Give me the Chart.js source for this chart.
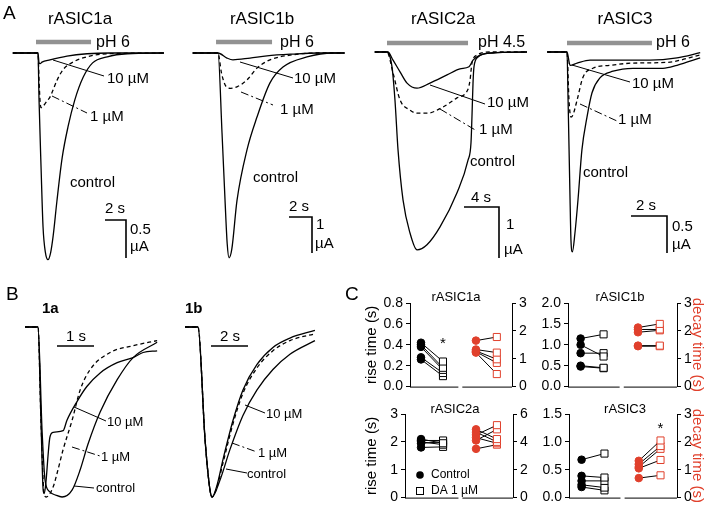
<!DOCTYPE html>
<html>
<head>
<meta charset="utf-8">
<script src="https://cdn.jsdelivr.net/npm/chart.js@4.4.1/dist/chart.umd.min.js"></script>
<style>
  html, body { margin: 0; padding: 0; background: #fff; }
  #fig { position: relative; width: 709px; height: 511px; overflow: hidden; background: #fff; }
  #fig canvas { position: absolute; }
</style>
</head>
<body>
<div id="fig"></div>
<script>
// ---- A: whole-cell currents, [time from pH step (s), current (uA)] ----
const a1aControl = [[-2.4,0],[0,0],[0.1,-0.62],[0.29,-1.5],[0.48,-2.29],[0.7,-2.62],[0.95,-2.72],[1.2,-2.63],[1.45,-2.4],[1.8,-1.95],[2.3,-1.38],[2.86,-0.97],[3.5,-0.62],[4.3,-0.32],[5.2,-0.13],[6.6,-0.05],[8.5,-0.01],[12,0]];
const a1a1uM = [[-2.4,0],[0,0],[0.1,-0.36],[0.19,-0.62],[0.29,-0.72],[0.48,-0.7],[0.86,-0.63],[1.14,-0.58],[1.81,-0.36],[2.38,-0.22],[3.33,-0.12],[4.67,-0.05],[6.6,-0.01],[12,0]];
const a1a10uM = [[-2.4,0],[0,0],[0.1,-0.13],[0.2,-0.14],[0.38,-0.12],[1.14,-0.09],[2.76,-0.04],[4.67,-0.01],[6.9,0],[12,0]];

const a1bControl = [[-2.2,0],[0,0],[0.35,-2.22],[0.61,-4.08],[0.8,-5.3],[0.96,-5.69],[1.2,-5.45],[1.65,-4.1],[2.52,-2.69],[3.39,-1.78],[4.52,-0.83],[5.65,-0.39],[7.74,-0.11],[10,0],[11,0]];
const a1b1uM = [[-2.2,0],[0,0],[0.3,-0.55],[0.7,-0.93],[1.1,-0.98],[1.65,-0.94],[2.52,-0.75],[3.39,-0.42],[4.52,-0.19],[6.26,-0.06],[8.6,0],[11,0]];
const a1b10uM = [[-2.2,0],[0,0],[0.78,-0.14],[1.3,-0.19],[2.78,-0.14],[4.26,-0.08],[6.52,-0.03],[8.6,0],[11,0]];

const a2aControl = [[-1.4,0],[0,0],[0.57,-0.29],[0.91,-0.94],[1.26,-1.92],[1.83,-2.9],[2.63,-3.55],[3.43,-3.88],[4.57,-3.78],[6.06,-3.43],[8.0,-2.76],[9.26,-2.12],[9.6,-1.78],[9.71,-1.27],[9.83,-0.61],[9.94,-0.29],[10.4,-0.1],[11.8,-0.02],[16,0]];
const a2a1uM = [[-1.4,0],[0,0],[0.69,-0.41],[1.49,-0.94],[2.63,-1.14],[3.43,-1.2],[4.57,-1.2],[6.4,-1.08],[8.0,-0.9],[9.26,-0.73],[9.49,-0.55],[9.71,-0.22],[10.29,-0.06],[11.8,0],[16,0]];
const a2a10uM = [[-1.4,0],[0.1,0],[0.69,-0.16],[1.49,-0.39],[2.29,-0.61],[3.43,-0.71],[4.91,-0.61],[6.86,-0.45],[8.34,-0.33],[9.37,-0.29],[9.83,-0.16],[10.63,-0.06],[12.1,-0.02],[16,0]];

const a3Control = [[-1.1,0],[0,0],[0.06,-0.65],[0.17,-2.0],[0.22,-2.54],[0.3,-2.7],[0.44,-2.45],[0.61,-2.0],[0.83,-1.32],[1.11,-0.88],[1.39,-0.55],[1.83,-0.35],[2.56,-0.26],[3.67,-0.22],[5.33,-0.22],[6.11,-0.18],[7.4,-0.08]];
const a31uM = [[-1.1,0],[0,0],[0.11,-0.65],[0.22,-0.88],[0.33,-0.85],[0.56,-0.65],[0.89,-0.34],[1.44,-0.22],[2.39,-0.18],[3.67,-0.15],[5.56,-0.14],[7.4,-0.04]];
const a310uM = [[-1.1,0],[0,0],[0.17,-0.18],[0.56,-0.15],[1.28,-0.11],[2.78,-0.11],[4.61,-0.11],[6.11,-0.08],[7.4,-0.01]];

// ---- B: normalised currents, [time (s), I/Imax] ----
const b1aControl = [[-0.35,0],[0,0],[0.11,-0.61],[0.19,-0.9],[0.32,-0.97],[0.49,-0.99],[0.65,-1.0],[0.92,-0.96],[1.14,-0.84],[1.35,-0.69],[1.68,-0.5],[2.14,-0.31],[2.57,-0.18],[3.22,-0.09]];
const b1a1uM = [[-0.35,0],[0,0],[0.08,-0.55],[0.16,-0.97],[0.22,-1.0],[0.41,-0.94],[0.54,-0.84],[0.68,-0.72],[0.92,-0.55],[1.14,-0.37],[1.41,-0.25],[1.95,-0.15],[2.57,-0.11],[3.22,-0.08]];
const b1a10uM = [[-0.35,0],[0,0],[0.08,-0.55],[0.14,-0.96],[0.17,-0.98],[0.22,-0.9],[0.27,-0.76],[0.32,-0.65],[0.41,-0.62],[0.68,-0.61],[0.78,-0.55],[1.05,-0.44],[1.32,-0.35],[1.68,-0.27],[2.14,-0.21],[2.57,-0.18],[2.84,-0.15],[3.22,-0.14]];
const b1bControl = [[-0.7,0],[0,0],[0.38,-0.66],[0.65,-0.96],[0.76,-1.0],[1.03,-0.93],[1.35,-0.78],[1.89,-0.55],[2.43,-0.37],[3.19,-0.22],[4.05,-0.12],[4.97,-0.065],[6.32,-0.02]];
const b1b1uM = [[-0.7,0],[0,0],[0.38,-0.66],[0.65,-0.96],[0.76,-1.0],[1.03,-0.94],[1.35,-0.8],[1.89,-0.57],[2.43,-0.39],[3.19,-0.24],[4.05,-0.14],[4.97,-0.08],[6.32,-0.04]];
const b1b10uM = [[-0.7,0],[0,0],[0.38,-0.66],[0.65,-0.96],[0.76,-1.0],[1.19,-0.9],[1.73,-0.72],[2.43,-0.52],[3.19,-0.37],[4.05,-0.25],[4.97,-0.16],[6.32,-0.08]];

// ---- C: paired rise / decay times (s), control vs DA 1 uM ----
const c1aRiseCtrl = [0.42, 0.40, 0.38, 0.28, 0.26];
const c1aRiseDA = [0.24, 0.18, 0.16, 0.13, 0.10];
const c1aDecayCtrl = [1.65, 1.33, 1.28, 1.25, 1.22];
const c1aDecayDA = [1.78, 1.22, 0.98, 0.85, 0.45];
const c1bRiseCtrl = [1.15, 1.0, 0.8, 0.5, 0.48];
const c1bRiseDA = [1.25, 0.72, 0.8, 0.45, 0.44];
const c1bDecayCtrl = [2.12, 2.05, 1.95, 1.47, 1.45];
const c1bDecayDA = [2.25, 2.05, 2.02, 1.47, 1.45];
const c2aRiseCtrl = [2.1, 2.05, 2.0, 1.95, 1.8];
const c2aRiseDA = [1.95, 2.05, 1.9, 2.0, 1.82];
const c2aDecayCtrl = [4.9, 4.7, 4.5, 4.3, 4.1, 3.5];
const c2aDecayDA = [4.2, 4.0, 5.2, 3.9, 4.9, 3.8];
const c3RiseCtrl = [0.68, 0.39, 0.30, 0.23, 0.19];
const c3RiseDA = [0.79, 0.36, 0.30, 0.18, 0.13];
const c3DecayCtrl = [1.32, 1.2, 1.1, 1.05, 0.7];
const c3DecayDA = [2.05, 1.85, 1.75, 1.35, 0.8];
const groupX = [1, 2, 3.5, 4.45];   // control rise, DA rise, control decay, DA decay

const FAM = "'Liberation Sans', Arial, Helvetica, sans-serif";
const RED = '#e0402c';
Chart.defaults.font.family = FAM;
Chart.defaults.color = '#000';

const fig = document.getElementById('fig');
function addCanvas(box) {
    const c = document.createElement('canvas');
    c.width = box.w; c.height = box.h;
    c.style.left = box.left + 'px'; c.style.top = box.top + 'px';
    c.style.width = box.w + 'px'; c.style.height = box.h + 'px';
    fig.appendChild(c);
    return c;
}
const pts = arr => arr.map(p => ({ x: p[0], y: p[1] }));

// labels, leader lines, stimulus bars, scale bars (page pixel positions)
const decor = {
    id: 'decor',
    afterDatasetsDraw(chart, args, o) {
        const ctx = chart.ctx, xs = chart.scales.x, ca = chart.chartArea;
        const L = o.left, T = o.top;
        ctx.save();
        if (o.ph) {
            ctx.strokeStyle = '#929292'; ctx.lineWidth = 4.5;
            ctx.beginPath();
            ctx.moveTo(xs.getPixelForValue(o.ph[0]), o.ph[2] - T);
            ctx.lineTo(xs.getPixelForValue(o.ph[1]), o.ph[2] - T);
            ctx.stroke();
        }
        if (o.bar) {
            const ys = chart.scales.y;
            const w = xs.getPixelForValue(o.bar.t) - xs.getPixelForValue(0);
            const cx = o.bar.x - L, cy = o.bar.y - T;
            ctx.strokeStyle = '#000'; ctx.lineWidth = 1.6; ctx.lineJoin = 'miter';
            ctx.beginPath();
            ctx.moveTo(cx - w, cy); ctx.lineTo(cx, cy);
            if (o.bar.i) ctx.lineTo(cx, cy + ys.getPixelForValue(-o.bar.i) - ys.getPixelForValue(0));
            ctx.stroke();
        }
        (o.leaders || []).forEach(l => {
            ctx.strokeStyle = '#000'; ctx.lineWidth = 1;
            ctx.setLineDash(l[4] ? [8, 3, 2, 3] : []);
            ctx.beginPath(); ctx.moveTo(l[0] - L, l[1] - T); ctx.lineTo(l[2] - L, l[3] - T); ctx.stroke();
        });
        ctx.setLineDash([]);
        if (o.gap) {
            ctx.strokeStyle = '#000'; ctx.lineWidth = 1;
            ctx.beginPath();
            ctx.moveTo(xs.getPixelForValue(xs.min), ca.bottom + 0.5);
            ctx.lineTo(xs.getPixelForValue(o.gap[0]), ca.bottom + 0.5);
            ctx.moveTo(xs.getPixelForValue(o.gap[1]), ca.bottom + 0.5);
            ctx.lineTo(xs.getPixelForValue(xs.max), ca.bottom + 0.5);
            ctx.stroke();
        }
        (o.stars || []).forEach(s => {
            ctx.font = '15px ' + FAM; ctx.textAlign = 'center'; ctx.textBaseline = 'middle'; ctx.fillStyle = '#000';
            ctx.fillText('*', xs.getPixelForValue(s[0]), chart.scales[s[2]].getPixelForValue(s[1]));
        });
        if (o.legend) {
            const lx = o.legend[0] - L, ly = o.legend[1] - T;
            ctx.fillStyle = '#000'; ctx.strokeStyle = '#000'; ctx.lineWidth = 1;
            ctx.beginPath(); ctx.arc(lx, ly, 3.8, 0, Math.PI * 2); ctx.fill();
            ctx.strokeRect(lx - 3.5, ly + 12.5, 7, 7);
            ctx.font = '12px ' + FAM; ctx.textAlign = 'left'; ctx.textBaseline = 'middle';
            ctx.fillText('Control', lx + 11, ly);
            ctx.fillText('DA 1 \u00b5M', lx + 11, ly + 16);
        }
        (o.texts || []).forEach(t => {
            ctx.font = t[3] + ' ' + FAM; ctx.fillStyle = '#000';
            ctx.textAlign = t[4] || 'left'; ctx.textBaseline = 'middle';
            ctx.fillText(t[0], t[1] - L, t[2] - T);
        });
        ctx.restore();
    }
};

function traceChart(box, map, series, deco) {
    return new Chart(addCanvas(box), {
        type: 'line',
        data: {
            datasets: series.map(s => ({
                data: pts(s[0]), borderColor: '#000', borderWidth: 1.3, borderDash: s[1] ? [4, 3] : [],
                pointRadius: 0, cubicInterpolationMode: 'monotone', fill: false
            }))
        },
        options: {
            responsive: false, devicePixelRatio: 1, animation: false,
            layout: { padding: 0 },
            plugins: { legend: { display: false }, tooltip: { enabled: false },
                decor: Object.assign({ left: box.left, top: box.top }, deco) },
            scales: {
                x: { type: 'linear', display: false, min: (box.left - map.ox) / map.sx, max: (box.left + box.w - map.ox) / map.sx },
                y: { type: 'linear', display: false, min: -(box.top + box.h - map.oy) / map.sy, max: (map.oy - box.top) / map.sy }
            }
        },
        plugins: [decor]
    });
}

function pairs(ctrl, da, xa, xb, axis, color) {
    return ctrl.map((v, i) => ({
        data: [{ x: xa, y: v }, { x: xb, y: da[i] }],
        yAxisID: axis, borderColor: '#000', borderWidth: 1,
        pointStyle: ['circle', 'rect'], pointRadius: [3.8, 5],
        pointBackgroundColor: [color, '#fff'], pointBorderColor: color, pointBorderWidth: 1
    }));
}

function yAxis(pos, max, step, dec, width, title, tcolor) {
    return {
        type: 'linear', position: pos, min: 0, max: max,
        ticks: { stepSize: step, font: { size: 14 }, color: '#000', padding: 3, callback: v => v.toFixed(dec) },
        grid: { drawOnChartArea: false, color: '#000', tickLength: 4, lineWidth: 1 },
        border: { color: '#000', width: 1 },
        title: { display: !!title, text: title || '', color: tcolor || '#000', font: { size: 15 }, padding: 0 },
        afterFit: s => { s.width = width; }
    };
}

function pairChart(box, c, deco) {
    return new Chart(addCanvas(box), {
        type: 'line',
        data: { datasets: pairs(c.rise[0], c.rise[1], groupX[0], groupX[1], 'y', '#000')
            .concat(pairs(c.decay[0], c.decay[1], groupX[2], groupX[3], 'y2', RED)) },
        options: {
            responsive: false, devicePixelRatio: 1, animation: false,
            layout: { padding: { top: 25, bottom: 10, left: 0, right: 0 } },
            plugins: { legend: { display: false }, tooltip: { enabled: false },
                decor: Object.assign({ left: box.left, top: box.top, gap: [2.7, 2.88] }, deco) },
            scales: {
                x: { type: 'linear', display: false, min: c.x[0], max: c.x[1] },
                y: yAxis('left', c.ly[0], c.ly[1], c.ly[2], c.lw, c.ltitle),
                y2: yAxis('right', c.ry[0], c.ry[1], 0, c.rw, c.rtitle, RED)
            }
        },
        plugins: [decor]
    });
}

const T17 = '17px', L15 = '15px';

// A
traceChart({ left: 0, top: 0, w: 180, h: 265 }, { ox: 38, oy: 53, sx: 10.5, sy: 76 },
    [[a1aControl], [a1a1uM, true], [a1a10uM]],
    { ph: [-0.19, 5.05, 42], bar: { x: 126, y: 220, t: 2, i: 0.5 },
      leaders: [[53, 60, 104, 76], [52, 96, 87, 113, true]],
      texts: [['A', 3, 14, '19px'], ['rASIC1a', 80, 19, T17, 'center'], ['pH 6', 96, 43, '16px'],
              ['10 \u00b5M', 107, 79, L15], ['1 \u00b5M', 90, 117, L15], ['control', 70, 183, L15],
              ['2 s', 105, 209, L15], ['0.5', 130, 230, L15], ['\u00b5A', 130, 247, L15]] });

traceChart({ left: 180, top: 0, w: 175, h: 265 }, { ox: 218, oy: 53, sx: 11.5, sy: 36 },
    [[a1bControl], [a1b1uM, true], [a1b10uM]],
    { ph: [-0.17, 4.7, 42], bar: { x: 312, y: 217, t: 2, i: 1 },
      leaders: [[240, 62, 293, 78], [241, 92, 273, 105, true]],
      texts: [['rASIC1b', 262, 19, T17, 'center'], ['pH 6', 280, 43, '16px'],
              ['10 \u00b5M', 294, 79, L15], ['1 \u00b5M', 280, 110, L15], ['control', 253, 178, L15],
              ['2 s', 289, 207, L15], ['1', 316, 225, L15], ['\u00b5A', 315, 244, L15]] });

traceChart({ left: 355, top: 0, w: 180, h: 265 }, { ox: 387, oy: 52, sx: 8.75, sy: 51 },
    [[a2aControl], [a2a1uM, true], [a2a10uM]],
    { ph: [0, 9.26, 43], bar: { x: 499, y: 207, t: 4, i: 1 },
      leaders: [[430, 85, 485, 104], [440, 109, 477, 131, true]],
      texts: [['rASIC2a', 443, 19, T17, 'center'], ['pH 4.5', 478, 43, '16px'],
              ['10 \u00b5M', 487, 103, L15], ['1 \u00b5M', 479, 130, L15], ['control', 470, 162, L15],
              ['4 s', 471, 198, L15], ['1', 506, 225, L15], ['\u00b5A', 504, 250, L15]] });

traceChart({ left: 535, top: 0, w: 174, h: 265 }, { ox: 567, oy: 52, sx: 18, sy: 74 },
    [[a3Control], [a31uM, true], [a310uM]],
    { ph: [0, 4.72, 43], bar: { x: 667, y: 216, t: 2, i: 0.5 },
      leaders: [[572, 65, 630, 82], [580, 104, 617, 121, true]],
      texts: [['rASIC3', 625, 19, T17, 'center'], ['pH 6', 656, 43, '16px'],
              ['10 \u00b5M', 632, 84, L15], ['1 \u00b5M', 618, 120, L15], ['control', 583, 173, L15],
              ['2 s', 636, 206, L15], ['0.5', 672, 227, L15], ['\u00b5A', 672, 245, L15]] });

// B
traceChart({ left: 0, top: 270, w: 170, h: 241 }, { ox: 38, oy: 327, sx: 37, sy: 170 },
    [[b1aControl], [b1a1uM, true], [b1a10uM]],
    { bar: { x: 94, y: 346, t: 1 },
      leaders: [[74, 407, 106, 421], [72, 447, 100, 456, true], [74, 486, 94, 488]],
      texts: [['B', 6, 295, '19px'], ['1a', 42, 309, 'bold 15px'], ['1 s', 66, 337, L15],
              ['10 \u00b5M', 107, 422, '13px'], ['1 \u00b5M', 101, 457, '13px'], ['control', 96, 488, '13px']] });

traceChart({ left: 170, top: 270, w: 190, h: 241 }, { ox: 198, oy: 327, sx: 18.5, sy: 170 },
    [[b1bControl], [b1b1uM, true], [b1b10uM]],
    { bar: { x: 248, y: 346, t: 2 },
      leaders: [[245, 405, 265, 413], [232, 443, 257, 452, true], [226, 469, 247, 473]],
      texts: [['1b', 185, 309, 'bold 15px'], ['2 s', 220, 337, L15], ['C', 345, 295, '19px'],
              ['10 \u00b5M', 266, 414, '13px'], ['1 \u00b5M', 258, 453, '13px'], ['control', 247, 474, '13px']] });

// C
pairChart({ left: 363, top: 278, w: 171, h: 120 },
    { rise: [c1aRiseCtrl, c1aRiseDA], decay: [c1aDecayCtrl, c1aDecayDA], x: [0.5, 5.14],
      ly: [0.8, 0.2, 1], ry: [3, 1], lw: 47, rw: 22, ltitle: 'rise time (s)' },
    { stars: [[2, 0.41, 'y']], texts: [['rASIC1a', 456, 297, '13px', 'center']] });

pairChart({ left: 540, top: 278, w: 166, h: 120 },
    { rise: [c1bRiseCtrl, c1bRiseDA], decay: [c1bDecayCtrl, c1bDecayDA], x: [0.45, 5.2],
      ly: [2, 0.5, 1], ry: [3, 1], lw: 28, rw: 29, rtitle: 'decay time (s)' },
    { texts: [['rASIC1b', 620, 297, '13px', 'center']] });

pairChart({ left: 363, top: 389, w: 172, h: 120 },
    { rise: [c2aRiseCtrl, c2aRiseDA], decay: [c2aDecayCtrl, c2aDecayDA], x: [0.27, 5.18],
      ly: [3, 1, 0], ry: [6, 2], lw: 42, rw: 22, ltitle: 'rise time (s)' },
    { legend: [420, 475], texts: [['rASIC2a', 455, 409, '13px', 'center']] });

pairChart({ left: 540, top: 389, w: 166, h: 120 },
    { rise: [c3RiseCtrl, c3RiseDA], decay: [c3DecayCtrl, c3DecayDA], x: [0.45, 5.17],
      ly: [1.5, 0.5, 1], ry: [3, 1], lw: 29, rw: 29, rtitle: 'decay time (s)' },
    { stars: [[4.45, 2.47, 'y2']], texts: [['rASIC3', 625, 409, '13px', 'center']] });
</script>
</body>
</html>
